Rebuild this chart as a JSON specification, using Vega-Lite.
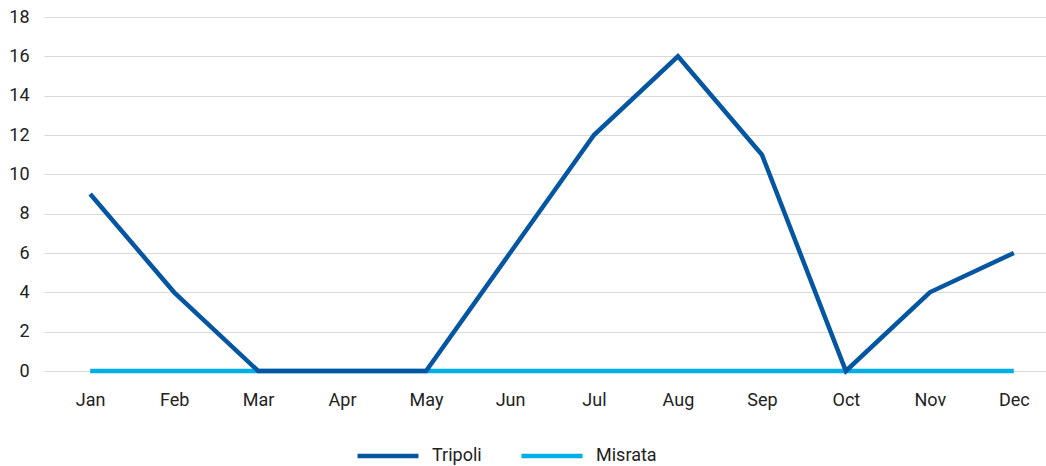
{
  "$schema": "https://vega.github.io/schema/vega-lite/v6.json",
  "autosize": "none",
  "width": 1016,
  "height": 354,
  "padding": {"left": 44, "top": 17, "right": 0, "bottom": 95},
  "background": "white",
  "config": {
    "font": "Roboto",
    "view": {"stroke": null}
  },
  "data": {
    "values": [
      {"month": "Jan", "city": "Tripoli", "value": 9},
      {"month": "Feb", "city": "Tripoli", "value": 4},
      {"month": "Mar", "city": "Tripoli", "value": 0},
      {"month": "Apr", "city": "Tripoli", "value": 0},
      {"month": "May", "city": "Tripoli", "value": 0},
      {"month": "Jun", "city": "Tripoli", "value": 6},
      {"month": "Jul", "city": "Tripoli", "value": 12},
      {"month": "Aug", "city": "Tripoli", "value": 16},
      {"month": "Sep", "city": "Tripoli", "value": 11},
      {"month": "Oct", "city": "Tripoli", "value": 0},
      {"month": "Nov", "city": "Tripoli", "value": 4},
      {"month": "Dec", "city": "Tripoli", "value": 6},
      {"month": "Jan", "city": "Misrata", "value": 0},
      {"month": "Feb", "city": "Misrata", "value": 0},
      {"month": "Mar", "city": "Misrata", "value": 0},
      {"month": "Apr", "city": "Misrata", "value": 0},
      {"month": "May", "city": "Misrata", "value": 0},
      {"month": "Jun", "city": "Misrata", "value": 0},
      {"month": "Jul", "city": "Misrata", "value": 0},
      {"month": "Aug", "city": "Misrata", "value": 0},
      {"month": "Sep", "city": "Misrata", "value": 0},
      {"month": "Oct", "city": "Misrata", "value": 0},
      {"month": "Nov", "city": "Misrata", "value": 0},
      {"month": "Dec", "city": "Misrata", "value": 0}
    ]
  },
  "encoding": {
    "x": {
      "field": "month",
      "type": "ordinal",
      "sort": ["Jan","Feb","Mar","Apr","May","Jun","Jul","Aug","Sep","Oct","Nov","Dec"],
      "scale": {"type": "point", "padding": 0.55},
      "axis": {
        "title": null,
        "domain": false,
        "ticks": false,
        "grid": false,
        "labelAngle": 0,
        "labelFontSize": 18,
        "labelColor": "#222222",
        "labelPadding": 20
      }
    },
    "y": {
      "field": "value",
      "type": "quantitative",
      "scale": {"domain": [0, 18], "nice": false},
      "axis": {
        "title": null,
        "domain": false,
        "ticks": false,
        "values": [0,2,4,6,8,10,12,14,16,18],
        "grid": true,
        "gridColor": "#d9d9d9",
        "gridWidth": 1,
        "labelFontSize": 18,
        "labelColor": "#222222",
        "labelPadding": 15
      }
    },
    "color": {
      "field": "city",
      "type": "nominal",
      "scale": {"domain": ["Tripoli", "Misrata"], "range": ["#0456a2", "#00aee8"]},
      "legend": {
        "title": null,
        "orient": "none",
        "direction": "horizontal",
        "legendX": 311,
        "legendY": 406,
        "symbolType": "stroke",
        "symbolSize": 3721,
        "symbolStrokeWidth": 4.5,
        "labelFontSize": 18,
        "labelColor": "#222222",
        "labelOffset": 11,
        "columnPadding": 30
      }
    }
  },
  "layer": [
    {
      "transform": [{"filter": "datum.city === 'Misrata'"}],
      "mark": {"type": "line", "strokeWidth": 4.5, "strokeJoin": "miter", "strokeCap": "butt"}
    },
    {
      "transform": [{"filter": "datum.city === 'Tripoli'"}],
      "mark": {"type": "line", "strokeWidth": 4.5, "strokeJoin": "miter", "strokeCap": "butt"}
    }
  ]
}
